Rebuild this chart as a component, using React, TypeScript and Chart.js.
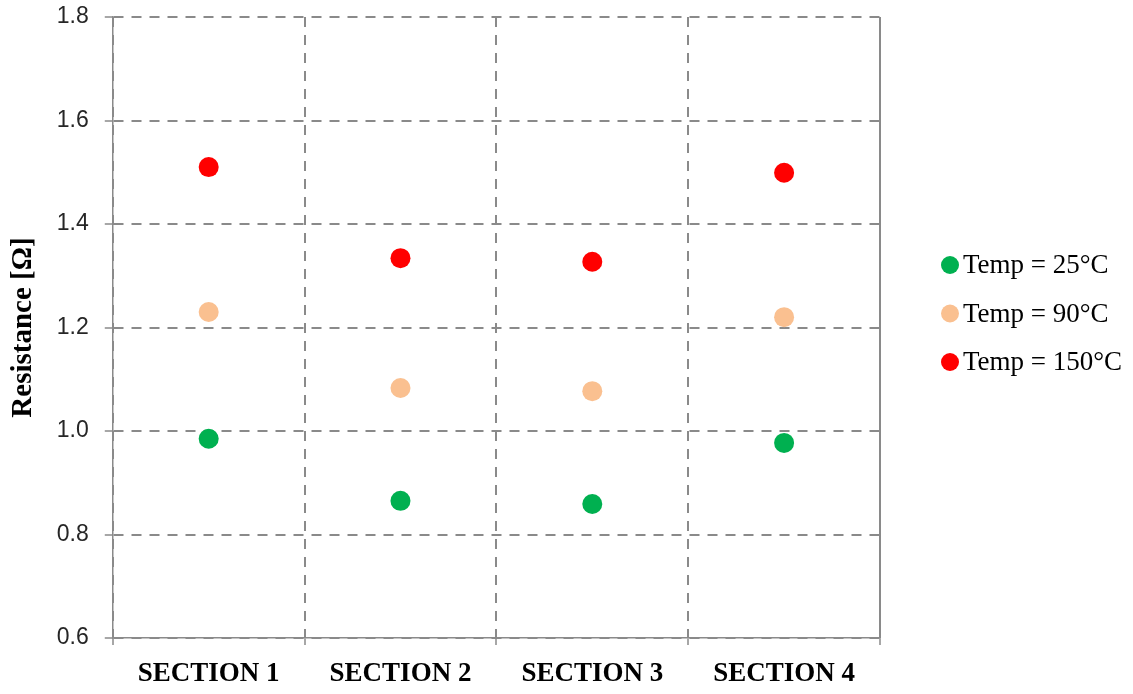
import React, { useEffect, useRef } from "react";
import { Chart, registerables } from "chart.js";

Chart.register(...registerables);

const categories = ["SECTION 1", "SECTION 2", "SECTION 3", "SECTION 4"];
const seriesNames = ["Temp = 25°C", "Temp = 90°C", "Temp = 150°C"];
const temp25 = [0.985, 0.865, 0.859, 0.977];
const temp90 = [1.23, 1.083, 1.077, 1.22];
const temp150 = [1.51, 1.334, 1.327, 1.499];
const yTicks = [0.6, 0.8, 1.0, 1.2, 1.4, 1.6, 1.8];
const colors = ["#00B050", "#FAC090", "#FF0000"];

const GRID = "#8A8A8A";
const DASH = [10, 8];
const dashForTicks = (c: any) => (c && c.type === "tick" ? DASH : []);

const sideLegend = {
  id: "sideLegend",
  afterDraw(chart: any) {
    const { ctx, chartArea } = chart;
    const cx = chartArea.right + 70;
    const mid = (chartArea.top + chartArea.bottom) / 2 - 14;
    const step = 48.5;
    ctx.save();
    ctx.font = "27px 'Liberation Serif', serif";
    ctx.textBaseline = "middle";
    ctx.textAlign = "left";
    chart.data.datasets.forEach((ds: any, i: number) => {
      const y = mid + (i - 1) * step;
      ctx.beginPath();
      ctx.fillStyle = ds.backgroundColor;
      ctx.arc(cx, y, 9, 0, Math.PI * 2);
      ctx.fill();
      ctx.fillStyle = "#000";
      ctx.fillText(ds.label, cx + 13, y + 1);
    });
    ctx.restore();
  },
};

export default function App() {
  const ref = useRef<HTMLCanvasElement | null>(null);
  useEffect(() => {
    document.body.style.margin = "0";
    const ctx = ref.current!;
    const values = [temp25, temp90, temp150];
    const chart = new Chart(ctx, {
      type: "line",
      data: {
        labels: categories,
        datasets: seriesNames.map((name, i) => ({
          label: name,
          data: values[i],
          showLine: false,
          pointRadius: 10,
          pointHoverRadius: 10,
          pointBackgroundColor: colors[i],
          pointBorderColor: colors[i],
          pointBorderWidth: 0,
          backgroundColor: colors[i],
          borderColor: colors[i],
          pointStyle: "circle",
        })),
      },
      options: {
        animation: false,
        responsive: true,
        maintainAspectRatio: false,
        layout: { autoPadding: false, padding: { left: 6, top: 17, right: 253, bottom: 3.5 } },
        plugins: {
          tooltip: { enabled: false },
          legend: { display: false },
        },
        scales: {
          x: {
            type: "category",
            offset: true,
            afterFit: (axis: any) => {
              axis.height = 52.5;
            },
            grid: {
              offset: true,
              color: GRID,
              lineWidth: 2,
              drawTicks: true,
              tickLength: 7,
              tickColor: GRID,
              tickBorderDash: [],
              tickWidth: 1.5,
            },
            border: { display: true, color: GRID, width: 1.5, dash: dashForTicks as any },
            ticks: {
              color: "#000",
              padding: 13,
              maxRotation: 0,
              font: { family: "'Liberation Serif', serif", size: 27, weight: "bold" },
            },
          },
          y: {
            min: 0.6,
            max: 1.8,
            afterBuildTicks: (axis: any) => {
              axis.ticks = yTicks.map((v) => ({ value: v }));
            },
            afterFit: (axis: any) => {
              axis.paddingTop = 0;
              axis.paddingBottom = 0;
            },
            grid: {
              color: GRID,
              lineWidth: 2,
              drawTicks: true,
              tickLength: 8,
              tickColor: GRID,
              tickBorderDash: [],
              tickWidth: 1.5,
            },
            border: { display: true, color: GRID, width: 1.5, dash: dashForTicks as any },
            ticks: {
              color: "#262626",
              padding: 16,
              font: { family: "'Liberation Sans', sans-serif", size: 23 },
              callback: (v: any) => Number(v).toFixed(1),
            },
            title: {
              display: true,
              text: "Resistance [Ω]",
              color: "#000",
              padding: { top: 0, bottom: 0 },
              font: { family: "'Liberation Serif', serif", size: 29, weight: "bold" },
            },
          },
        },
      },
      plugins: [sideLegend],
    });
    return () => chart.destroy();
  }, []);
  return (
    <div style={{ position: "absolute", left: 0, top: 0, width: 1133, height: 694 }}>
      <canvas ref={ref} />
    </div>
  );
}
